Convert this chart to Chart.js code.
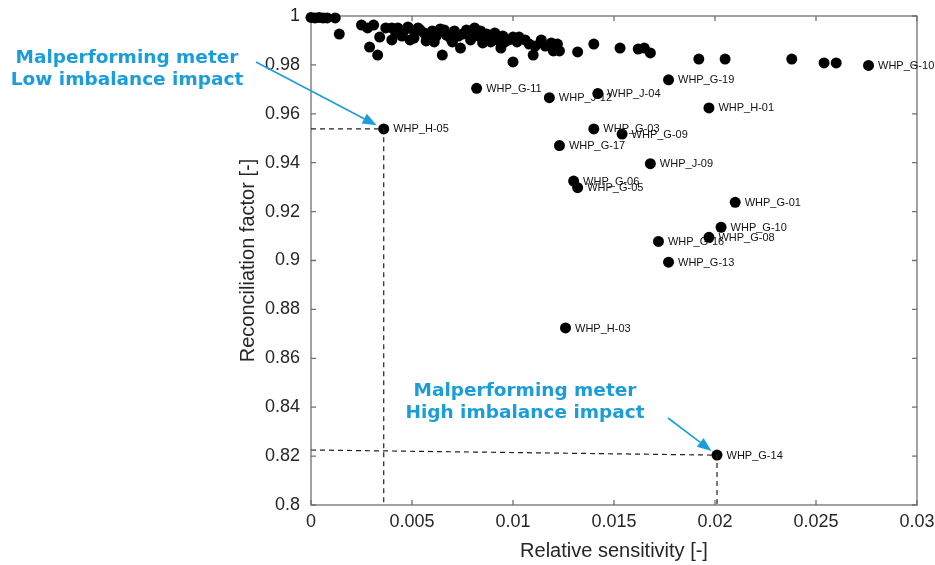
<!DOCTYPE html>
<html>
<head>
<meta charset="utf-8">
<script src="https://cdn.jsdelivr.net/npm/chart.js@4/dist/chart.umd.min.js"></script>
<style>
  html, body { margin: 0; padding: 0; background: #ffffff; }
  #wrap { width: 935px; height: 565px; position: relative; }
</style>
</head>
<body>
<div id="wrap"><canvas id="c" width="935" height="565"></canvas></div>
<script>
// ---- data ----
const clusterX = [0.0000,0.0002,0.0004,0.0006,0.0008,0.0012,0.0014,0.0025,0.0028,0.0031,0.0029,0.0033,0.0034,0.0037,0.0040,0.0040,0.0043,0.0046,0.0048,0.0051,0.0051,0.0054,0.0057,0.0060,0.0062,0.0064,0.0065,0.0067,0.0070,0.0071,0.0074,0.0075,0.0077,0.0080,0.0083,0.0085,0.0087,0.0090,0.0092,0.0094,0.0096,0.0100,0.0100,0.0102,0.0106,0.0108,0.0110,0.0111,0.0114,0.0116,0.0119,0.0120,0.0122,0.0123,0.0132,0.0140,0.0153,0.0162,0.0165,0.0168,0.0192,0.0205,0.0238,0.0254,0.0260,0.0042,0.0045,0.0049,0.0053,0.0056,0.0059,0.0061,0.0066,0.0069,0.0073,0.0079,0.0081,0.0084,0.0089,0.0091,0.0095,0.0098,0.0103];
const clusterY = [0.9994,0.9992,0.9994,0.9992,0.9992,0.9992,0.9926,0.9963,0.9951,0.9963,0.9873,0.9840,0.9914,0.9951,0.9951,0.9902,0.9951,0.9939,0.9955,0.9939,0.9910,0.9943,0.9898,0.9939,0.9918,0.9947,0.9840,0.9922,0.9894,0.9939,0.9869,0.9926,0.9943,0.9935,0.9918,0.9890,0.9926,0.9918,0.9902,0.9869,0.9894,0.9914,0.9812,0.9894,0.9902,0.9885,0.9840,0.9877,0.9902,0.9877,0.9890,0.9857,0.9885,0.9857,0.9853,0.9885,0.9869,0.9865,0.9869,0.9849,0.9824,0.9824,0.9824,0.9808,0.9808,0.9926,0.9918,0.9902,0.9951,0.9930,0.9910,0.9894,0.9943,0.9910,0.9918,0.9902,0.9951,0.9939,0.9894,0.9930,0.9918,0.9902,0.9914];

const meterNames = ['WHP_G-10','WHP_G-19','WHP_J-04','WHP_J-12','WHP_G-11','WHP_H-01','WHP_H-05','WHP_G-03','WHP_G-09','WHP_G-17','WHP_J-09','WHP_G-06','WHP_G-05','WHP_G-01','WHP_G-10','WHP_G-08','WHP_G-16','WHP_G-13','WHP_H-03','WHP_G-14'];
const meterX = [0.0276,0.0177,0.0142,0.0118,0.0082,0.0197,0.0036,0.0140,0.0154,0.0123,0.0168,0.0130,0.0132,0.0210,0.0203,0.0197,0.0172,0.0177,0.0126,0.0201];
const meterY = [0.9798,0.9739,0.9683,0.9666,0.9704,0.9624,0.9538,0.9538,0.9517,0.9470,0.9396,0.9325,0.9298,0.9238,0.9136,0.9095,0.9078,0.8993,0.8724,0.8204];

// left end of the (slightly slanted) dashed guide towards the G-14 point
const guideLeftY = 0.8225;

const xTicks = [0, 0.005, 0.01, 0.015, 0.02, 0.025, 0.03];
const xTickLabels = ['0','0.005','0.01','0.015','0.02','0.025','0.03'];
const yTicks = [0.8, 0.82, 0.84, 0.86, 0.88, 0.9, 0.92, 0.94, 0.96, 0.98, 1];
const yTickLabels = ['0.8','0.82','0.84','0.86','0.88','0.9','0.92','0.94','0.96','0.98','1'];

const noteLow = ['Malperforming meter', 'Low imbalance impact'];
const noteHigh = ['Malperforming meter', 'High imbalance impact'];

// ---- build ----
const clusterPts = clusterX.map((x, i) => ({x: x, y: clusterY[i]}));
const meterPts = meterX.map((x, i) => ({x: x, y: meterY[i]}));
const iH05 = meterNames.indexOf('WHP_H-05');
const iG14 = meterNames.indexOf('WHP_G-14');
const guideLow = [
  {x: xTicks[0], y: meterY[iH05]},
  {x: meterX[iH05], y: meterY[iH05]},
  {x: meterX[iH05], y: yTicks[0]}
];
const guideHigh = [
  {x: xTicks[0], y: guideLeftY},
  {x: meterX[iG14], y: meterY[iG14]},
  {x: meterX[iG14], y: yTicks[0]}
];

const FONT = '"Liberation Sans", Arial, Helvetica, sans-serif';
const TXT = '#262626';
const AXIS = '#707070';
const BLUE = '#1b9dd9';

const boxPlugin = {
  id: 'box',
  beforeDatasetsDraw(chart) {
    const {ctx, chartArea: a, scales} = chart;
    ctx.save();
    ctx.strokeStyle = AXIS;
    ctx.lineWidth = 1.3;
    ctx.strokeRect(a.left, a.top, a.right - a.left, a.bottom - a.top);
    const L = 5;
    ctx.beginPath();
    xTicks.forEach(v => {
      const p = scales.x.getPixelForValue(v);
      ctx.moveTo(p, a.bottom); ctx.lineTo(p, a.bottom - L);
      ctx.moveTo(p, a.top); ctx.lineTo(p, a.top + L);
    });
    yTicks.forEach(v => {
      const p = scales.y.getPixelForValue(v);
      ctx.moveTo(a.left, p); ctx.lineTo(a.left + L, p);
      ctx.moveTo(a.right, p); ctx.lineTo(a.right - L, p);
    });
    ctx.stroke();
    ctx.restore();
  }
};

function arrow(ctx, x0, y0, x1, y1) {
  const ang = Math.atan2(y1 - y0, x1 - x0);
  const hl = 14, hw = 5.5;
  const bx = x1 - hl * Math.cos(ang), by = y1 - hl * Math.sin(ang);
  ctx.beginPath();
  ctx.moveTo(x0, y0); ctx.lineTo(bx, by);
  ctx.stroke();
  ctx.beginPath();
  ctx.moveTo(x1, y1);
  ctx.lineTo(bx + hw * Math.sin(ang), by - hw * Math.cos(ang));
  ctx.lineTo(bx - hw * Math.sin(ang), by + hw * Math.cos(ang));
  ctx.closePath();
  ctx.fill();
}

const notePlugin = {
  id: 'notes',
  afterDatasetsDraw(chart) {
    const {ctx, scales} = chart;
    ctx.save();
    // point labels
    ctx.font = '11px ' + FONT;
    ctx.fillStyle = '#111';
    ctx.textAlign = 'left';
    ctx.textBaseline = 'middle';
    meterNames.forEach((n, i) => {
      const px = scales.x.getPixelForValue(meterX[i]);
      const py = scales.y.getPixelForValue(meterY[i]);
      ctx.fillText(n, px + 9.5, py + 0.5);
    });
    // annotation texts
    ctx.font = 'bold 18.5px "DejaVu Sans", Verdana, sans-serif';
    ctx.fillStyle = BLUE;
    ctx.textAlign = 'center';
    noteLow.forEach((t, k) => ctx.fillText(t, 127, 58 + k * 22));
    noteHigh.forEach((t, k) => ctx.fillText(t, 525, 391 + k * 22));
    // arrows
    ctx.strokeStyle = BLUE;
    ctx.lineWidth = 1.6;
    const targets = [[iH05, 256, 62, 8], [iG14, 668, 418, 7]];
    targets.forEach(([i, tx, ty, gap]) => {
      const px = scales.x.getPixelForValue(meterX[i]);
      const py = scales.y.getPixelForValue(meterY[i]);
      const ang = Math.atan2(py - ty, px - tx);
      arrow(ctx, tx, ty, px - gap * Math.cos(ang), py - gap * Math.sin(ang));
    });
    ctx.restore();
  }
};

function noPad(s) {
  s.paddingTop = 0; s.paddingBottom = 0; s.paddingLeft = 0; s.paddingRight = 0;
}

new Chart(document.getElementById('c'), {
  type: 'scatter',
  data: {
    datasets: [
      {
        type: 'line', data: guideLow, showLine: true, borderColor: '#222', borderWidth: 1.2,
        borderDash: [5, 4], pointRadius: 0, fill: false, tension: 0, clip: false
      },
      {
        type: 'line', data: guideHigh, showLine: true, borderColor: '#222', borderWidth: 1.2,
        borderDash: [5, 4], pointRadius: 0, fill: false, tension: 0, clip: false
      },
      {
        data: clusterPts, backgroundColor: '#000', borderColor: '#000', borderWidth: 0,
        pointRadius: 5.5, clip: false
      },
      {
        data: meterPts, backgroundColor: '#000', borderColor: '#000', borderWidth: 0,
        pointRadius: 5.5, clip: false
      }
    ]
  },
  options: {
    responsive: false,
    animation: false,
    events: [],
    layout: { padding: { left: 232, right: 18, top: 16, bottom: 0 } },
    plugins: { legend: { display: false }, tooltip: { enabled: false }, title: { display: false } },
    scales: {
      x: {
        type: 'linear', min: 0, max: 0.03,
        afterBuildTicks: s => { s.ticks = xTicks.map(v => ({value: v})); },
        afterFit: s => { s.height = 60; noPad(s); },
        grid: { display: false, drawTicks: false },
        border: { display: false },
        ticks: {
          padding: 6, color: TXT, font: { family: FONT, size: 18 },
          maxRotation: 0, autoSkip: false,
          callback: (v, i) => xTickLabels[i]
        },
        title: {
          display: true, text: 'Relative sensitivity [-]', color: TXT,
          font: { family: FONT, size: 20 }, padding: { top: 0, bottom: 2 }
        }
      },
      y: {
        type: 'linear', min: 0.8, max: 1,
        afterBuildTicks: s => { s.ticks = yTicks.map(v => ({value: v})); },
        afterFit: s => { s.width = 79; noPad(s); },
        grid: { display: false, drawTicks: false },
        border: { display: false },
        ticks: {
          padding: 11, color: TXT, font: { family: FONT, size: 18 },
          autoSkip: false,
          callback: (v, i) => yTickLabels[i]
        },
        title: {
          display: true, text: 'Reconciliation factor [-]', color: TXT,
          font: { family: FONT, size: 20 }, padding: { top: 4, bottom: 0 }
        }
      }
    }
  },
  plugins: [boxPlugin, notePlugin]
});
</script>
</body>
</html>
